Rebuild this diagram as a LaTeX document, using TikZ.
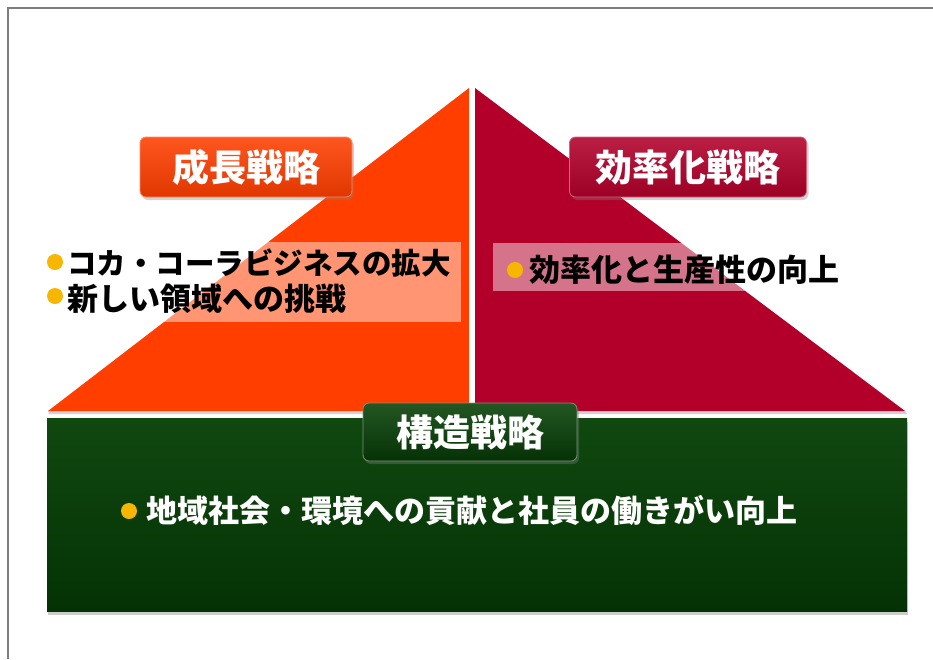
\documentclass[tikz,border=0pt]{standalone}
\usepackage{fontspec}
\newfontfamily\jp{Noto Sans CJK JP}
\usetikzlibrary{shadows}
\definecolor{triL}{RGB}{255,62,0}
\definecolor{triR}{RGB}{178,0,42}
\definecolor{greenM}{RGB}{10,62,10}
\definecolor{greenTop}{RGB}{16,72,16}
\definecolor{greenBot}{RGB}{5,50,5}
\definecolor{bulletC}{RGB}{247,182,0}
\definecolor{frameC}{RGB}{125,125,125}
\tikzset{
  titlebox/.style={rounded corners=6pt, minimum height=60pt, inner sep=0pt,
    text=white, font=\jp\bfseries\fontsize{37}{40}\selectfont,
    drop shadow={shadow xshift=2pt, shadow yshift=-3pt, opacity=0.35}},
  bodytext/.style={anchor=west, inner sep=0pt, font=\jp\bfseries\fontsize{31}{34}\selectfont},
  bulletdot/.style={circle, fill=bulletC, minimum size=16pt, inner sep=0pt}
}
\begin{document}
\begin{tikzpicture}[x=1pt,y=-1pt]
\useasboundingbox (0,0) rectangle (933,659);
\fill[white] (0,0) rectangle (933,659);
\draw[frameC, line width=1.6pt] (8,659) -- (8,8) -- (933,8);

% triangles
\fill[black!35, opacity=0.5] (49,414) -- (469,414) -- (469,411) -- (48,411) -- cycle;
\fill[black!35, opacity=0.5] (475,414) -- (907,414) -- (905,411) -- (475,411) -- cycle;
\fill[triL] (48,411) -- (469,88) -- (469,411) -- cycle;
\fill[triR] (475,411) -- (475,88) -- (905,411) -- cycle;

% translucent text panels
\fill[white, opacity=0.45] (40,242) rectangle (461,322);
\fill[white, opacity=0.45] (493,243) rectangle (860,291);

% base
\shade[top color=greenTop, bottom color=greenBot,
  drop shadow={shadow xshift=1pt, shadow yshift=-4pt, opacity=0.4}]
  (47,418) rectangle (907,611);

% titles
\node[titlebox, minimum width=212pt, top color=triL!88!white, bottom color=triL!88!black,
  draw=triL!60!white, line width=0.8pt] (t1) at (246,167) {成長戦略};
\node[titlebox, minimum width=237pt, top color=triR!88!white, bottom color=triR!88!black,
  draw=triR!60!white, line width=0.8pt] (t2) at (688,167) {効率化戦略};
\node[titlebox, minimum width=214pt, minimum height=58pt, top color=greenTop!92!white, bottom color=greenBot,
  draw=greenM!55!white, line width=0.8pt] (t3) at (470,432) {構造戦略};

% bullet lines
\node[bulletdot] (b1) at (55,262) {};
\node[bodytext, text=black, font=\jp\bfseries\fontsize{29.5}{34}\selectfont] (l1) at (67,263) {コカ・コーラビジネスの拡大};
\node[bulletdot] (b2) at (55,296) {};
\node[bodytext, text=black] (l2) at (67,299) {新しい領域への挑戦};
\node[bulletdot] (b3) at (515,270) {};
\node[bodytext, text=black] (l3) at (529,270) {効率化と生産性の向上};
\node[bulletdot] (b4) at (129,511) {};
\node[bodytext, text=white] (l4) at (146,510) {地域社会・環境への貢献と社員の働きがい向上};
\end{tikzpicture}
\end{document}
